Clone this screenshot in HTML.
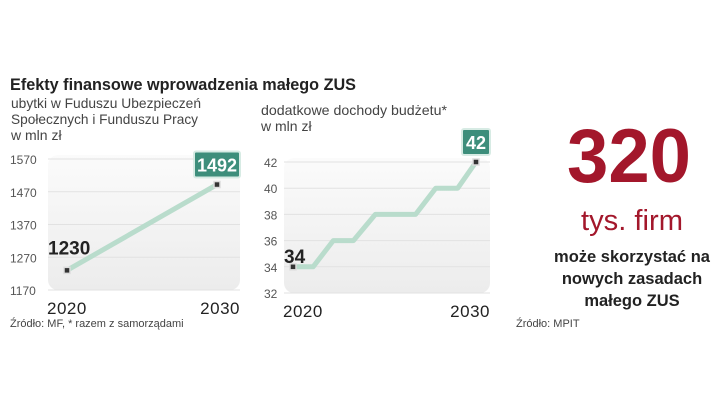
<!DOCTYPE html>
<html><head><meta charset="utf-8">
<style>
html,body{margin:0;padding:0;background:#fff;}
body{width:720px;height:406px;position:relative;overflow:hidden;font-family:"Liberation Sans",sans-serif;}
svg{position:absolute;left:0;top:0;}
</style></head>
<body>
<svg width="720" height="406" viewBox="0 0 720 406">
<defs>
<linearGradient id="bg" x1="0" y1="0" x2="0" y2="1">
<stop offset="0" stop-color="#fbfbfb"/><stop offset="1" stop-color="#ececec"/>
</linearGradient>
</defs>
<text x="10" y="90" font-size="17" font-weight="bold" fill="#222" textLength="346" lengthAdjust="spacingAndGlyphs">Efekty finansowe wprowadzenia małego ZUS</text>
<g font-size="14" fill="#444">
<text x="11" y="108" textLength="190" lengthAdjust="spacingAndGlyphs">ubytki w Fuduszu Ubezpieczeń</text>
<text x="11" y="124" textLength="187" lengthAdjust="spacingAndGlyphs">Społecznych i Funduszu Pracy</text>
<text x="11" y="140">w mln zł</text>
</g>
<g font-size="14" fill="#444">
<text x="261" y="115" textLength="186" lengthAdjust="spacingAndGlyphs">dodatkowe dochody budżetu*</text>
<text x="261" y="131">w mln zł</text>
</g>
<g id="c1"></g>
<g id="c2"></g>
<text x="10" y="327" font-size="11" fill="#444">Źródło: MF, * razem z samorządami</text>
<text x="516" y="327" font-size="11" fill="#444">Źródło: MPIT</text>
<text x="629" y="182" font-size="76" font-weight="bold" fill="#a3172b" text-anchor="middle" textLength="124" lengthAdjust="spacingAndGlyphs">320</text>
<text x="632" y="230" font-size="29" fill="#a3172b" text-anchor="middle" textLength="102" lengthAdjust="spacingAndGlyphs">tys. firm</text>
<g font-size="16.5" font-weight="bold" fill="#222" text-anchor="middle">
<text x="632" y="262">może skorzystać na</text>
<text x="632" y="284">nowych zasadach</text>
<text x="632" y="306">małego ZUS</text>
</g>
</svg>
<script>
const ns='http://www.w3.org/2000/svg';
// Left chart data
const c1Years=[2020,2030];
const c1Values=[1230,1492];
const c1Ticks=[1170,1270,1370,1470,1570];
// Middle chart data
const c2Years=[2020,2021.1,2022.2,2023.3,2024.5,2026.7,2027.8,2029,2030];
const c2Values=[34,34,36,36,38,38,40,40,42];
const c2Ticks=[32,34,36,38,40,42];

function mk(tag,attrs,parent){const e=document.createElementNS(ns,tag);for(const k in attrs)e.setAttribute(k,attrs[k]);parent.appendChild(e);return e;}

function draw(g,cfg,years,vals,ticks){
  const sx=v=>cfg.x0+(v-cfg.xmin)/(cfg.xmax-cfg.xmin)*(cfg.x1-cfg.x0);
  const sy=v=>cfg.y0-(v-ticks[0])/(ticks[ticks.length-1]-ticks[0])*(cfg.y0-cfg.y1);
  const bg=mk('rect',{x:cfg.bx0,y:cfg.y1-4,width:cfg.bx1-cfg.bx0,height:cfg.y0-cfg.y1+4,rx:10,fill:'url(#bg)'},g);
  
  
  ticks.forEach(t=>{
    const l=mk('line',{x1:cfg.bx0,x2:cfg.bx1,y1:sy(t),y2:sy(t),stroke:'#e2e2e2','stroke-width':1},g);
    
    
    const tx=mk('text',{x:cfg.tx,y:sy(t)+5,'font-size':12,fill:'#555'},g);
    tx.textContent=t;
    
    
  });
  const pts=years.map((y,i)=>sx(y)+','+sy(vals[i])).join(' ');
  const pl=mk('polyline',{points:pts,fill:'none',stroke:'#b9dccc','stroke-width':5,'stroke-linejoin':'round'},g);
  
  
  [0,years.length-1].forEach(i=>{
    const m=mk('rect',{x:sx(years[i])-3,y:sy(vals[i])-3,width:6,height:6,fill:'#333',stroke:'#ddd','stroke-width':1.5},g);
    
    
  });
  // start label
  const s=mk('text',{x:cfg.sl[0],y:sy(vals[0])+cfg.sl[1],'font-size':19,'font-weight':'bold',fill:'#222'},g);
  s.textContent=vals[0];
  
  
  // end label box
  const lx=sx(years[years.length-1]), ly=sy(vals[vals.length-1]);
  const w=cfg.bw;
  const b=mk('rect',{x:lx-w/2,y:ly-33,width:w,height:26,rx:2,fill:'#3d8e7b',stroke:'#d7ebe4','stroke-width':2},g);
  
  
  const et=mk('text',{x:lx,y:ly-13,'font-size':18,'font-weight':'bold',fill:'#fff','text-anchor':'middle'},g);
  et.textContent=vals[vals.length-1];
  
  
  [[years[0],'start'],[years[years.length-1],'end']].forEach(([y,a],i)=>{
    const t=mk('text',{x:i?cfg.bx1:cfg.bx0-1,y:cfg.y0+24,'font-size':17,fill:'#222','text-anchor':a,'letter-spacing':'0.5'},g);
    t.textContent=Math.round(y);
    
    
  });
}
draw(document.getElementById('c1'),{x0:67,x1:217,xmin:2020,xmax:2030,y0:290,y1:159,bx0:48,bx1:240,tx:10,sl:[48,-16],bw:46},c1Years,c1Values,c1Ticks);
draw(document.getElementById('c2'),{x0:293,x1:476,xmin:2020,xmax:2030,y0:293,y1:162,bx0:284,bx1:490,tx:264,sl:[284,-4],bw:28},c2Years,c2Values,c2Ticks);
</script>
</body></html>
